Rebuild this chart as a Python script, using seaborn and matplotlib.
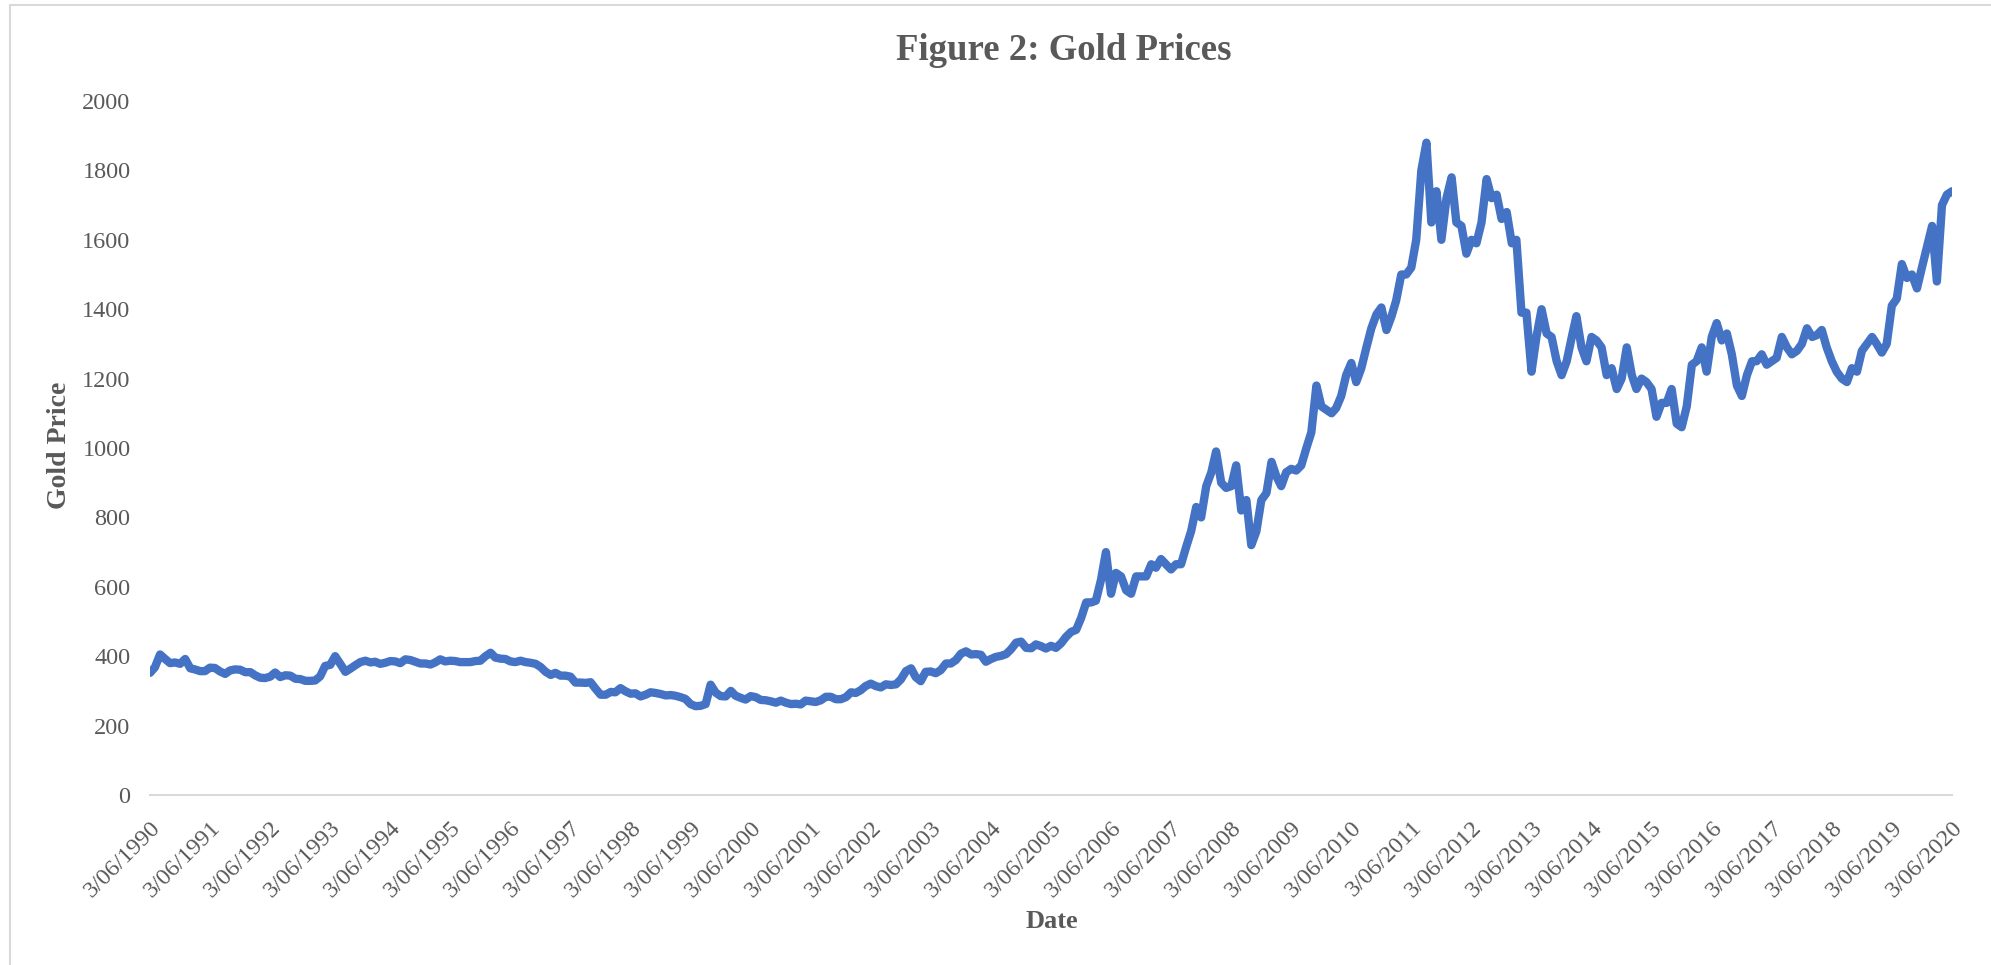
import pandas as pd
import numpy as np
import matplotlib
matplotlib.use("Agg")
import matplotlib.pyplot as plt
import matplotlib.transforms as mtransforms
from matplotlib.lines import Line2D
import seaborn as sns

# monthly gold prices (USD/oz), June 1990 .. June 2020
prices_1990s = [
    352, 368, 405, 392, 380, 382, 378,                                  # 1990 Jun-Dec
    392, 365, 362, 357, 357, 367, 366, 356, 349, 359, 362, 361,         # 1991
    354, 354, 345, 338, 337, 341, 353, 340, 345, 344, 335, 334,         # 1992
    329, 329, 330, 342, 372, 375, 400, 378, 355, 364, 374, 383,         # 1993
    387, 382, 384, 378, 381, 386, 385, 380, 391, 389, 384, 379,         # 1994
    379, 376, 382, 391, 385, 387, 386, 383, 383, 383, 386, 387,         # 1995
    400, 410, 396, 393, 392, 385, 383, 387, 383, 381, 378, 369,         # 1996
    355, 346, 352, 344, 344, 341, 324, 324, 323, 325, 306, 289,         # 1997
    289, 297, 296, 308, 299, 292, 293, 284, 289, 296, 294, 291,         # 1998
    287, 288, 286, 282, 277, 262, 256, 257, 262, 318, 295, 285,         # 1999
]
prices_2000s = [
    284, 300, 286, 280, 275, 285, 282, 274, 273, 270, 266, 272,         # 2000
    266, 262, 263, 261, 272, 270, 268, 273, 283, 283, 276, 276,         # 2001
    282, 296, 294, 302, 314, 321, 314, 310, 319, 317, 319, 333,         # 2002
    357, 365, 340, 328, 355, 356, 351, 360, 379, 379, 389, 407,         # 2003
    414, 405, 406, 404, 384, 392, 398, 401, 406, 420, 439, 442,         # 2004
    424, 423, 434, 429, 422, 430, 424, 437, 456, 470, 476, 510,         # 2005
    555, 555, 560, 620, 700, 580, 640, 630, 590, 580, 630, 630,         # 2006
    630, 665, 655, 680, 665, 650, 665, 665, 715, 760, 830, 800,         # 2007
    890, 930, 990, 900, 885, 890, 950, 820, 850, 720, 760, 850,         # 2008
    870, 960, 920, 890, 930, 940, 935, 950, 1000, 1045, 1180, 1120,     # 2009
]
prices_2010s = [
    1110, 1100, 1115, 1150, 1210, 1245, 1190, 1230, 1290, 1345, 1385, 1405,   # 2010
    1340, 1380, 1425, 1500, 1500, 1520, 1600, 1800, 1880, 1650, 1740, 1600,   # 2011
    1720, 1780, 1650, 1640, 1560, 1600, 1590, 1650, 1775, 1720, 1730, 1660,   # 2012
    1680, 1590, 1600, 1390, 1390, 1220, 1320, 1400, 1330, 1320, 1250, 1210,   # 2013
    1250, 1320, 1380, 1290, 1250, 1320, 1310, 1290, 1210, 1230, 1170, 1200,   # 2014
    1290, 1210, 1170, 1200, 1190, 1170, 1090, 1130, 1130, 1170, 1070, 1060,   # 2015
    1120, 1240, 1250, 1290, 1220, 1320, 1360, 1310, 1330, 1270, 1180, 1150,   # 2016
    1210, 1250, 1250, 1270, 1240, 1250, 1260, 1320, 1290, 1270, 1280, 1300,   # 2017
    1345, 1320, 1325, 1340, 1290, 1250, 1220, 1200, 1190, 1230, 1220, 1280,   # 2018
    1300, 1320, 1300, 1275, 1300, 1410, 1430, 1530, 1490, 1500, 1460, 1520,   # 2019
]
prices_2020 = [1580, 1640, 1480, 1700, 1730, 1740]                           # 2020 Jan-Jun

tick_years  = list(range(1990, 2021))
tick_labels = [f"3/06/{y}" for y in tick_years]
y_ticks     = [0, 200, 400, 600, 800, 1000, 1200, 1400, 1600, 1800, 2000]

LINE_COLOR = "#4472C4"
TEXT_COLOR = "#595959"
AXIS_COLOR = "#D9D9D9"


def build_frame():
    prices = prices_1990s + prices_2000s + prices_2010s + prices_2020
    dates  = pd.date_range("1990-06-03", periods=len(prices),
                           freq=pd.DateOffset(months=1))
    return pd.DataFrame({"Date": dates, "Gold Price": prices})


def plot_gold(df):
    sns.set_theme(style="white")
    plt.rcParams["font.family"] = ["Liberation Serif", "DejaVu Serif"]

    W, H = 1991, 965
    fig = plt.figure(figsize=(W / 100, H / 100), dpi=100)
    ax  = fig.add_axes([150 / W, 1 - 795 / H, 1802 / W, 694 / H])

    sns.lineplot(data=df, x="Date", y="Gold Price", ax=ax, color=LINE_COLOR,
                 linewidth=6, solid_joinstyle="round", solid_capstyle="round")

    tick_dates = pd.to_datetime([f"{y}-06-03" for y in tick_years])
    ax.set_xlim(tick_dates[0], tick_dates[-1])
    ax.set_ylim(0, 2000)
    ax.set_yticks(y_ticks)
    ax.set_yticklabels([str(v) for v in y_ticks])
    ax.set_xticks(tick_dates)
    ax.set_xticklabels(tick_labels, rotation=45, ha="right", va="top",
                       rotation_mode="anchor")

    offset = mtransforms.ScaledTranslation(6 / 100, 0, fig.dpi_scale_trans)
    for lbl in ax.get_xticklabels():
        lbl.set_transform(lbl.get_transform() + offset)

    ax.tick_params(axis="x", direction="out", length=7, width=1.5,
                   color=AXIS_COLOR, labelsize=17.5, labelcolor=TEXT_COLOR, pad=9)
    ax.tick_params(axis="y", length=0, labelsize=17.5, labelcolor=TEXT_COLOR, pad=14)

    for side in ["left", "right", "top"]:
        ax.spines[side].set_visible(False)
    ax.spines["bottom"].set_color(AXIS_COLOR)
    ax.spines["bottom"].set_linewidth(1.5)
    ax.spines["bottom"].set_zorder(0)
    ax.set_xlabel("")
    ax.set_ylabel("")
    ax.grid(False)

    fig.text(1064 / W, 1 - 50 / H, "Figure 2: Gold Prices", ha="center", va="center",
             fontsize=26.5, fontweight="bold", color=TEXT_COLOR)
    fig.text(60 / W, 1 - 445 / H, "Gold Price", ha="center", va="center",
             rotation=90, fontsize=20, fontweight="bold", color=TEXT_COLOR)
    fig.text(1052 / W, 1 - 922 / H, "Date", ha="center", va="center",
             fontsize=19, fontweight="bold", color=TEXT_COLOR)

    # outer chart border (only left and top edges are visible)
    fig.add_artist(Line2D([10 / W, 10 / W], [0, 1 - 5 / H],
                          color=AXIS_COLOR, linewidth=1.5))
    fig.add_artist(Line2D([10 / W, 1], [1 - 5 / H, 1 - 5 / H],
                          color=AXIS_COLOR, linewidth=1.5))

    fig.savefig("out.png", dpi=100)


if __name__ == "__main__":
    plot_gold(build_frame())
